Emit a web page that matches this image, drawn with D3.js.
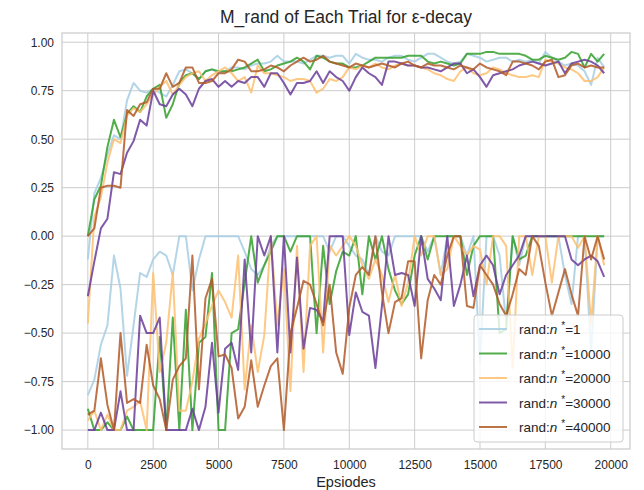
<!DOCTYPE html>
<meta charset="utf-8">
<script src="https://d3js.org/d3.v7.min.js"></script>
<style>
  body { margin: 0; background: #fff; }
  text { font-family: "Liberation Sans", Arial, sans-serif; }
</style>
<div id="my_dataviz"></div>
<script>

// episodes on the x axis (one point every 250 episodes)
var episodes = d3.range(0, 20000, 250);

var nValues = ["1", "10000", "20000", "30000", "40000"];
var colors = ["#a6cee3", "#33a02c", "#fdbf6f", "#6a3d9a", "#b15928"];

var xTicks = [0, 2500, 5000, 7500, 10000, 12500, 15000, 17500, 20000];
var yTicks = [-1, -0.75, -0.5, -0.25, 0, 0.25, 0.5, 0.75, 1];

// trial 1 (upper curves)
var n1Up = [-0.12, 0.22, 0.30, 0.42, 0.52, 0.50, 0.70, 0.79, 0.75, 0.74,
  0.76, 0.74, 0.72, 0.78, 0.85, 0.86, 0.84, 0.81, 0.85, 0.86,
  0.84, 0.85, 0.87, 0.87, 0.86, 0.88, 0.89, 0.89, 0.90, 0.93,
  0.90, 0.90, 0.90, 0.89, 0.91, 0.93, 0.93, 0.92, 0.93, 0.93,
  0.89, 0.94, 0.92, 0.91, 0.91, 0.90, 0.92, 0.93, 0.93, 0.91,
  0.90, 0.92, 0.94, 0.94, 0.92, 0.90, 0.89, 0.90, 0.94, 0.93,
  0.92, 0.90, 0.91, 0.92, 0.92, 0.90, 0.91, 0.90, 0.91, 0.89,
  0.95, 0.92, 0.90, 0.88, 0.89, 0.88, 0.85, 0.78, 0.92, 0.87];
var n10000Up = [0.00, 0.19, 0.26, 0.46, 0.60, 0.51, 0.63, 0.67, 0.64, 0.72,
  0.76, 0.78, 0.61, 0.68, 0.79, 0.83, 0.84, 0.81, 0.85, 0.86,
  0.85, 0.85, 0.85, 0.86, 0.87, 0.89, 0.91, 0.85, 0.86, 0.88,
  0.89, 0.90, 0.92, 0.90, 0.86, 0.93, 0.92, 0.90, 0.89, 0.89,
  0.87, 0.87, 0.88, 0.90, 0.92, 0.92, 0.92, 0.92, 0.92, 0.93,
  0.93, 0.93, 0.90, 0.89, 0.90, 0.89, 0.88, 0.89, 0.94, 0.94,
  0.94, 0.95, 0.95, 0.94, 0.94, 0.94, 0.94, 0.93, 0.91, 0.91,
  0.93, 0.92, 0.91, 0.92, 0.95, 0.94, 0.87, 0.94, 0.90, 0.94];
var n20000Up = [-0.45, 0.10, 0.20, 0.38, 0.50, 0.48, 0.62, 0.66, 0.64, 0.68,
  0.73, 0.77, 0.80, 0.73, 0.78, 0.82, 0.84, 0.85, 0.80, 0.83,
  0.85, 0.87, 0.84, 0.80, 0.82, 0.74, 0.88, 0.84, 0.84, 0.83,
  0.82, 0.80, 0.81, 0.81, 0.80, 0.74, 0.76, 0.81, 0.80, 0.82,
  0.87, 0.86, 0.88, 0.87, 0.89, 0.87, 0.86, 0.88, 0.89, 0.88,
  0.88, 0.87, 0.86, 0.84, 0.83, 0.81, 0.80, 0.85, 0.87, 0.84,
  0.83, 0.84, 0.87, 0.86, 0.84, 0.83, 0.82, 0.82, 0.83, 0.82,
  0.91, 0.90, 0.89, 0.87, 0.86, 0.84, 0.80, 0.80, 0.82, 0.87];
var n30000Up = [-0.31, -0.13, 0.04, 0.09, 0.33, 0.32, 0.43, 0.49, 0.60, 0.57,
  0.75, 0.68, 0.67, 0.73, 0.76, 0.73, 0.67, 0.76, 0.80, 0.81,
  0.77, 0.80, 0.77, 0.80, 0.79, 0.82, 0.82, 0.77, 0.84, 0.84,
  0.79, 0.73, 0.79, 0.79, 0.80, 0.85, 0.79, 0.85, 0.82, 0.80,
  0.75, 0.82, 0.87, 0.84, 0.82, 0.78, 0.90, 0.90, 0.89, 0.88,
  0.88, 0.87, 0.87, 0.86, 0.85, 0.87, 0.89, 0.89, 0.84, 0.86,
  0.82, 0.77, 0.83, 0.84, 0.85, 0.86, 0.88, 0.89, 0.90, 0.89,
  0.88, 0.89, 0.90, 0.84, 0.89, 0.90, 0.91, 0.90, 0.88, 0.84];
var n40000Up = [0.00, 0.04, 0.25, 0.26, 0.26, 0.25, 0.65, 0.62, 0.68, 0.69,
  0.76, 0.76, 0.84, 0.77, 0.79, 0.87, 0.87, 0.79, 0.79, 0.80,
  0.84, 0.84, 0.86, 0.91, 0.90, 0.85, 0.85, 0.86, 0.88, 0.87,
  0.85, 0.88, 0.90, 0.92, 0.90, 0.91, 0.93, 0.90, 0.89, 0.88,
  0.87, 0.89, 0.88, 0.87, 0.88, 0.89, 0.88, 0.87, 0.89, 0.90,
  0.88, 0.87, 0.89, 0.88, 0.88, 0.87, 0.86, 0.88, 0.87, 0.86,
  0.89, 0.87, 0.86, 0.85, 0.83, 0.90, 0.90, 0.89, 0.88, 0.86,
  0.90, 0.91, 0.82, 0.83, 0.88, 0.89, 0.87, 0.88, 0.87, 0.87];

// trial 2 (lower curves)
var n1Low = [-0.82, -0.74, -0.56, -0.46, -0.10, -0.27, -0.72, -0.46, -0.19, -0.21,
  -0.12, -0.08, -0.10, -0.20, 0.00, 0.00, -0.28, -0.12, 0.00, 0.00,
  0.00, 0.00, 0.00, 0.00, -0.08, -0.17, -0.20, -0.15, -0.05, 0.00,
  0.00, 0.00, 0.00, 0.00, 0.00, 0.00, 0.00, -0.08, 0.00, 0.00,
  -0.05, -0.10, -0.12, -0.20, 0.00, -0.08, -0.10, 0.00, 0.00, 0.00,
  0.00, 0.00, -0.08, 0.00, -0.20, 0.00, 0.00, 0.00, -0.10, 0.00,
  -0.65, 0.00, 0.00, -0.10, -0.45, 0.00, -0.15, 0.00, 0.00, 0.00,
  0.00, 0.00, 0.00, -0.20, -0.35, 0.00, 0.00, -0.60, 0.00, 0.00];
var n10000Low = [-0.89, -1.00, -1.00, -0.96, -1.00, -1.00, -0.93, -1.00, -1.00, -1.00,
  -1.00, -0.52, -1.00, -0.42, -1.00, -0.38, -1.00, -0.55, -0.52, -0.19,
  -1.00, -1.00, -0.50, -0.48, -0.24, 0.00, -0.24, -0.15, -0.08, 0.00,
  0.00, -0.08, 0.00, 0.00, 0.00, -0.50, -0.05, -0.35, -0.18, -0.08,
  -0.10, 0.00, -0.30, 0.00, -0.12, 0.00, -0.17, -0.28, -0.35, -0.30,
  -0.10, 0.00, -0.12, 0.00, 0.00, 0.00, 0.00, 0.00, -0.20, -0.05,
  0.00, 0.00, 0.00, -0.50, -0.48, 0.00, -0.12, -0.10, 0.00, 0.00,
  0.00, 0.00, 0.00, 0.00, 0.00, 0.00, 0.00, 0.00, 0.00, 0.00];
var n20000Low = [-0.95, -0.90, -1.00, -0.92, -1.00, -1.00, -0.90, -0.88, -0.85, -1.00,
  -0.19, -0.70, -0.55, -0.19, -0.90, -0.90, -0.75, -0.53, -0.45, -0.36,
  -0.28, -0.34, -0.42, -0.10, -0.79, -0.46, -0.70, -0.51, 0.00, -0.46,
  -0.17, -0.80, -0.05, -0.70, -0.05, 0.00, -0.60, -0.05, -0.10, -0.05,
  0.00, -0.05, -0.15, -0.22, -0.12, -0.20, -0.34, -0.20, -0.36, -0.24,
  0.00, -0.10, 0.00, 0.00, -0.20, -0.17, 0.00, -0.05, -0.10, -0.05,
  -0.07, -0.25, 0.00, 0.00, -0.05, -0.68, 0.00, 0.00, -0.20, 0.00,
  0.00, -0.24, 0.00, 0.00, 0.00, -0.06, 0.00, -0.45, 0.00, -0.15];
var n30000Low = [-1.00, -1.00, -0.91, -1.00, -1.00, -0.80, -1.00, -1.00, -0.41, -0.50,
  -0.50, -0.42, -1.00, -1.00, -1.00, -1.00, -0.89, -1.00, -0.88, -0.55,
  -0.91, -0.58, -0.55, -0.69, -0.12, -0.60, 0.00, -0.10, 0.00, -0.60,
  0.00, -0.60, -0.11, -0.58, -0.37, -0.38, -0.44, 0.00, 0.00, 0.00,
  -0.51, -0.29, -0.39, -0.41, -0.68, -0.36, 0.00, -0.20, -0.19, -0.20,
  -0.36, 0.00, -0.22, -0.27, -0.33, 0.00, -0.36, -0.25, -0.10, -0.31,
  -0.15, -0.10, -0.15, -0.30, -0.20, -0.15, -0.10, 0.00, 0.00, 0.00,
  0.00, 0.00, 0.00, 0.00, -0.12, -0.15, -0.12, -0.10, -0.13, -0.21];
var n40000Low = [-0.92, -0.90, -0.63, -0.87, -1.00, -0.50, -0.86, -0.84, -0.86, -0.56,
  -0.77, -0.84, -1.00, -0.74, -0.67, -0.63, -0.10, -0.79, -0.32, -0.22,
  -0.62, -0.61, -0.68, -0.94, -0.88, -0.64, -0.88, -0.77, -0.67, -0.63,
  -1.00, -0.50, -0.37, -0.23, -0.25, -0.35, -0.46, -0.25, -0.60, -0.71,
  -0.37, -0.20, -0.16, -0.20, 0.00, -0.29, -0.50, -0.34, -0.32, -0.13,
  -0.13, -0.63, -0.33, -0.20, -0.25, -0.10, 0.00, 0.00, -0.36, -0.37,
  -0.15, -0.20, -0.25, -0.35, -0.41, -0.30, -0.17, -0.20, 0.00, -0.05,
  -0.24, -0.41, -0.29, -0.17, -0.30, -0.41, 0.00, -0.12, 0.00, -0.12];

var upper = [n1Up, n10000Up, n20000Up, n30000Up, n40000Up];
var lower = [n1Low, n10000Low, n20000Low, n30000Low, n40000Low];

// plot box
var W = 644, H = 490;
var boxL = 62, boxR = 630, boxT = 33, boxB = 449;

var svg = d3.select("#my_dataviz")
  .append("svg")
    .attr("width", W)
    .attr("height", H);

var x = d3.scaleLinear()
  .domain([-987.5, 20737.5])
  .range([boxL, boxR]);

var y = d3.scaleLinear()
  .domain([-1.0975, 1.0475])
  .range([boxB, boxT]);

// grid
svg.append("g")
  .selectAll("line")
  .data(xTicks)
  .enter().append("line")
    .attr("x1", d => x(d)).attr("x2", d => x(d))
    .attr("y1", boxT).attr("y2", boxB)
    .attr("stroke", "#cccccc").attr("stroke-width", 1);
svg.append("g")
  .selectAll("line")
  .data(yTicks)
  .enter().append("line")
    .attr("x1", boxL).attr("x2", boxR)
    .attr("y1", d => y(d)).attr("y2", d => y(d))
    .attr("stroke", "#cccccc").attr("stroke-width", 1);

// axes (labels only, like seaborn whitegrid)
var xAxis = svg.append("g")
  .attr("transform", "translate(0," + boxB + ")")
  .call(d3.axisBottom(x).tickValues(xTicks).tickSize(0).tickPadding(11).tickFormat(d3.format("d")));
var yAxis = svg.append("g")
  .attr("transform", "translate(" + boxL + ",0)")
  .call(d3.axisLeft(y).tickValues(yTicks).tickSize(0).tickPadding(8).tickFormat(d3.format(".2f")));
[xAxis, yAxis].forEach(function(a) {
  a.select(".domain").remove();
  a.selectAll("text")
    .attr("fill", "#262626")
    .style("font-size", "12px")
    .style("font-family", "'Liberation Sans', Arial, sans-serif");
});

// lines
var line = d3.line()
  .x(function(d, i) { return x(episodes[i]); })
  .y(function(d) { return y(d); });

var plot = svg.append("g");
for (var k = 0; k < nValues.length; k++) {
  [upper[k], lower[k]].forEach(function(series) {
    plot.append("path")
      .datum(series)
      .attr("fill", "none")
      .attr("stroke", colors[k])
      .attr("stroke-opacity", 0.85)
      .attr("stroke-width", 2)
      .attr("stroke-linejoin", "round")
      .attr("d", line);
  });
}

// frame
svg.append("rect")
  .attr("x", boxL).attr("y", boxT)
  .attr("width", boxR - boxL).attr("height", boxB - boxT)
  .attr("fill", "none")
  .attr("stroke", "#cccccc")
  .attr("stroke-width", 1.25);

// title and x label
svg.append("text")
  .attr("x", (boxL + boxR) / 2)
  .attr("y", 23)
  .attr("text-anchor", "middle")
  .attr("fill", "#262626")
  .style("font-size", "17.5px")
  .text("M_rand of Each Trial for \u03b5-decay");

svg.append("text")
  .attr("x", (boxL + boxR) / 2)
  .attr("y", 487)
  .attr("text-anchor", "middle")
  .attr("fill", "#262626")
  .style("font-size", "14.5px")
  .text("Epsiodes");

// legend
var legend = svg.append("g");
legend.append("rect")
  .attr("x", 474).attr("y", 315)
  .attr("width", 149).attr("height", 127)
  .attr("rx", 3)
  .attr("fill", "#ffffff").attr("fill-opacity", 0.8)
  .attr("stroke", "#cccccc").attr("stroke-width", 1);

nValues.forEach(function(n, k) {
  var ry = 329 + k * 24.5;
  legend.append("line")
    .attr("x1", 479).attr("x2", 507)
    .attr("y1", ry).attr("y2", ry)
    .attr("stroke", colors[k])
    .attr("stroke-opacity", 0.85)
    .attr("stroke-width", 2);
  var t = legend.append("text")
    .attr("x", 519).attr("y", ry + 5)
    .attr("fill", "#262626")
    .style("font-size", "13.5px");
  t.append("tspan").text("rand:");
  t.append("tspan").style("font-style", "italic").text("n");
  t.append("tspan").attr("dx", 4).attr("dy", -5).style("font-size", "10px").text("*");
  t.append("tspan").attr("dy", 5).text("=" + n);
});

</script>
